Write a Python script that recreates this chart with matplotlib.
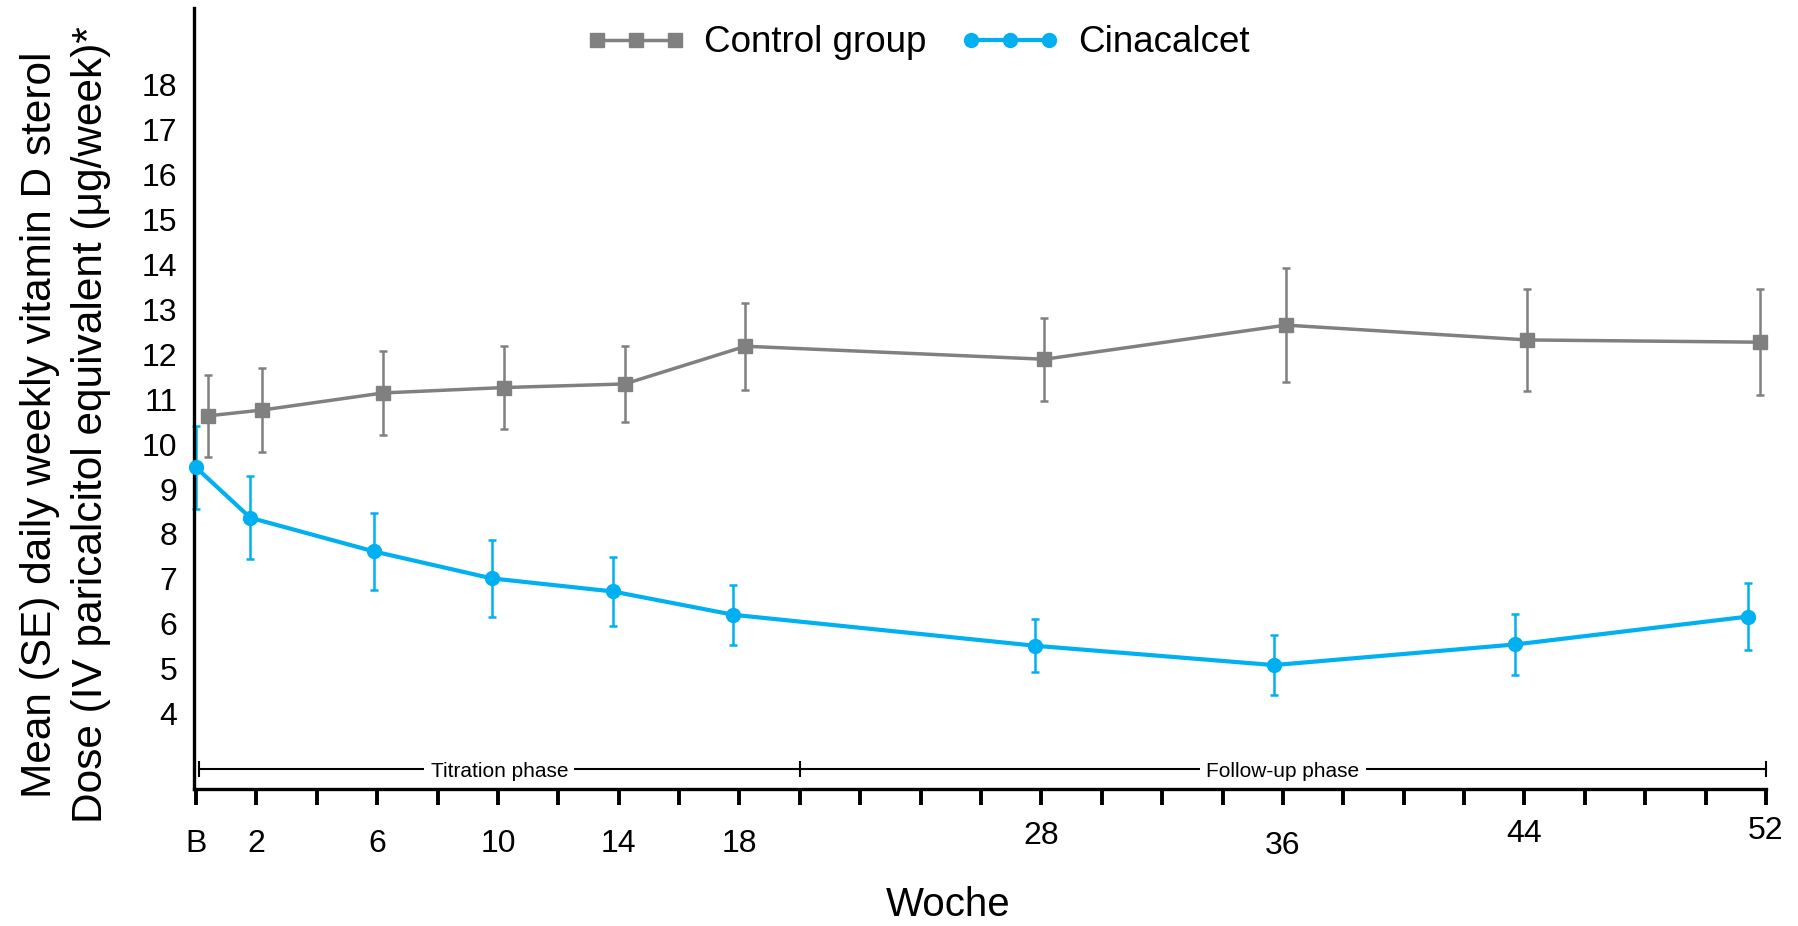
import matplotlib
matplotlib.use('Agg')
import matplotlib.pyplot as plt

plt.rcParams['font.family'] = ['Liberation Sans', 'DejaVu Sans']

# data (points are nudged sideways in the original)
control_weeks = [0.4, 2.2, 6.2, 10.2, 14.2, 18.2, 28.1, 36.1, 44.1, 51.8]
control_mean = [10.63, 10.76, 11.14, 11.26, 11.34, 12.18, 11.89, 12.65, 12.32, 12.27]
control_se = [0.92, 0.93, 0.93, 0.92, 0.85, 0.97, 0.92, 1.27, 1.13, 1.18]

cina_weeks = [0.0, 1.8, 5.9, 9.8, 13.8, 17.8, 27.8, 35.7, 43.7, 51.4]
cina_mean = [9.48, 8.36, 7.61, 7.01, 6.72, 6.20, 5.51, 5.08, 5.54, 6.16]
cina_se = [0.93, 0.92, 0.85, 0.85, 0.76, 0.67, 0.59, 0.67, 0.68, 0.75]

xtick_weeks = list(range(0, 53, 2))
xtick_text = {0: 'B', 2: '2', 6: '6', 10: '10', 14: '14', 18: '18',
              28: '28', 36: '36', 44: '44', 52: '52'}
ytick_values = list(range(4, 19))

phase_edges = [0.1, 20, 52]
phase_names = ['Titration phase', 'Follow-up phase']

gray = '#808080'
blue = '#00B0F0'

fig = plt.figure(figsize=(17.98, 9.26), dpi=100)
ax = fig.add_axes([0.1079, 0.1479, 0.8743, 0.8434])

# error bars first, lines and markers on top
ax.errorbar(control_weeks, control_mean, yerr=control_se, fmt='none',
            ecolor=gray, elinewidth=1.8, capsize=3, capthick=1.8, clip_on=False)
ax.errorbar(cina_weeks, cina_mean, yerr=cina_se, fmt='none',
            ecolor=blue, elinewidth=1.8, capsize=3, capthick=1.8, clip_on=False)
ax.plot(control_weeks, control_mean, color=gray, lw=2.5, marker='s',
        markersize=10.5, label='Control group', clip_on=False, zorder=3)
ax.plot(cina_weeks, cina_mean, color=blue, lw=3, marker='o',
        markersize=10, label='Cinacalcet', clip_on=False, zorder=3)

ax.set_xlim(-0.066, 52)
ax.set_ylim(2.32, 19.71)

# axes styling
for s in ['top', 'right']:
    ax.spines[s].set_visible(False)
ax.spines['left'].set_linewidth(2.4)
ax.spines['bottom'].set_linewidth(2.4)

ax.set_yticks(ytick_values)
ax.tick_params(axis='y', length=0, pad=12, labelsize=23)

ax.set_xticks(xtick_weeks)
ax.set_xticklabels([xtick_text.get(w, '') for w in xtick_weeks])
ax.tick_params(axis='x', direction='out', length=11.5, width=2.8, labelsize=23)

# the original labels sit at slightly uneven heights
label_pad = {28: 11.5, 36: 18.5, 44: 10, 52: 8}
for w, tick in zip(xtick_weeks, ax.xaxis.get_major_ticks()):
    tick.set_pad(label_pad.get(w, 17))

ax.set_ylabel('Mean (SE) daily weekly vitamin D sterol\n'
              'Dose (IV paricalcitol equivalent (μg/week)*',
              fontsize=30.5, linespacing=1.35)
ax.yaxis.set_label_coords(-0.0528, 0.466)

ax.set_xlabel('Woche', fontsize=29)
ax.xaxis.set_label_coords(0.4796, -0.124)

# phase bracket just above the x axis, kept below the axis line and ticks
trans = ax.get_xaxis_transform()
ax.plot(phase_edges, [0.0256] * len(phase_edges), transform=trans, color='black',
        lw=1.5, marker='|', markersize=11.5, markeredgewidth=1.5, clip_on=False,
        zorder=1.1)
for i, name in enumerate(phase_names):
    mid = (phase_edges[i] + phase_edges[i + 1]) / 2
    ax.text(mid, 0.022, name, transform=trans, fontsize=15, ha='center', va='center',
            zorder=1.2, bbox=dict(boxstyle='square,pad=0.3', fc='white', ec='none'))

fig.legend(loc='center', bbox_to_anchor=(0.5106, 0.9536), ncol=2, frameon=False,
           fontsize=26.5, numpoints=3, handlelength=2.7, handletextpad=0.5,
           columnspacing=0.92)

fig.savefig('out.png', dpi=100)
